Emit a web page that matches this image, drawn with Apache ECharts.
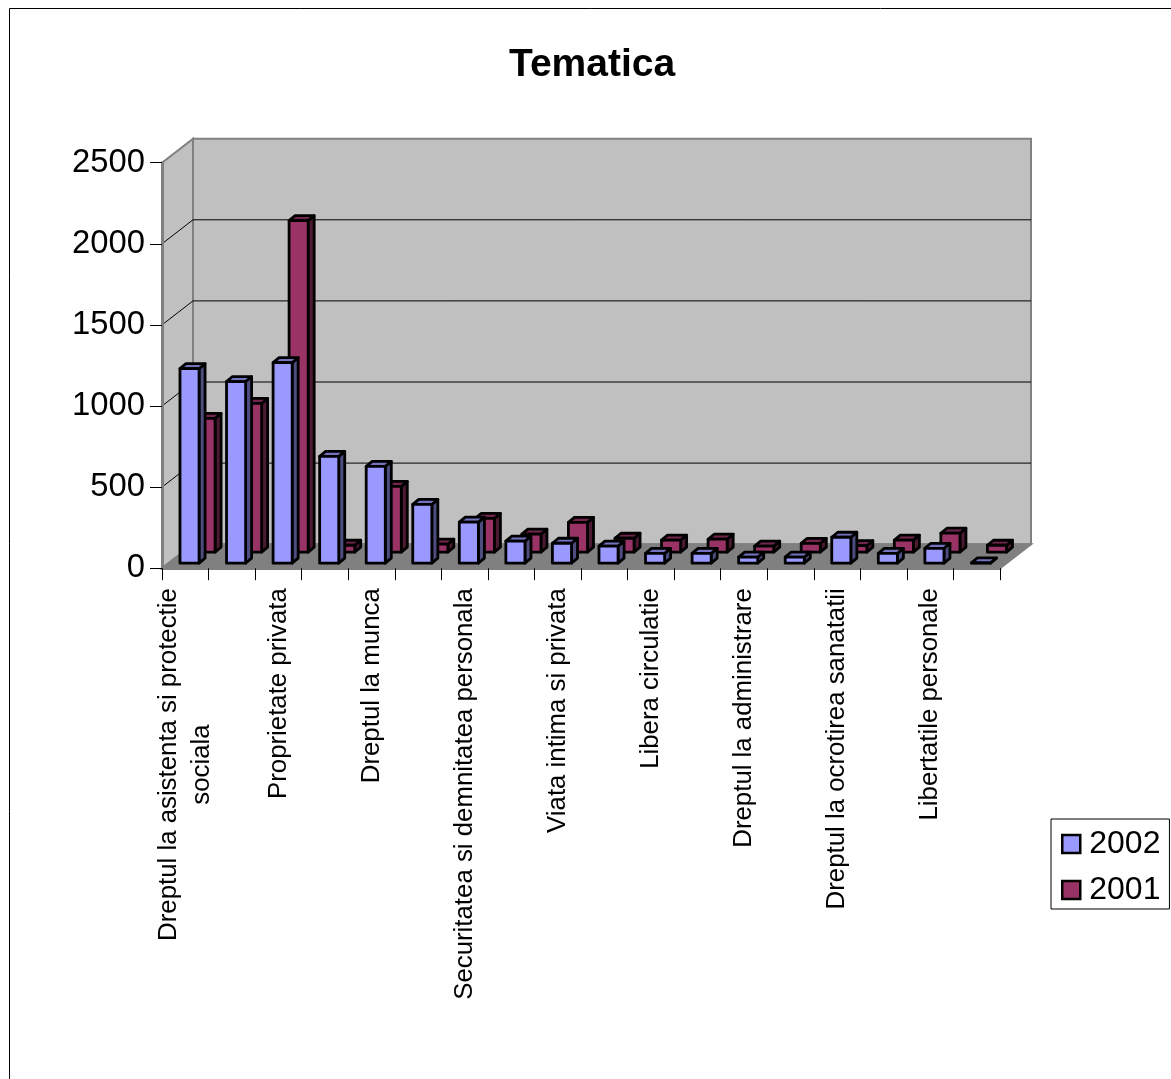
<!DOCTYPE html>
<html><head><meta charset="utf-8">
<style>html,body{margin:0;padding:0;background:#fff}#c{width:1171px;height:1079px}</style>
<script src="https://cdn.jsdelivr.net/npm/echarts@6/dist/echarts.min.js"></script>
</head><body><div id="c"></div>
<script>
const categories = ['Dreptul la asistenta si protectie\nsociala','','Proprietate privata','','Dreptul la munca','','Securitatea si demnitatea personala','','Viata intima si privata','','Libera circulatie','','Dreptul la administrare','','Dreptul la ocrotirea sanatatii','','Libertatile personale',''];
const values2002 = [1200,1120,1237,659,597,363,253,136,123,105,61,61,37,37,160,61,92,2];
const values2001 = [825,917,2044,43,406,50,209,111,184,86,74,80,37,55,40,74,117,43];
const ticks = [0,500,1000,1500,2000,2500];
const DX = 31, DY = -24;        // wall depth
const BAR_DX = 6, BAR_DY = -5;  // bar depth
const FONT = '"Liberation Sans", Arial, sans-serif';

function shade(points, fill){
  return {type:'polygon', shape:{points}, style:{fill, stroke:'#000', lineWidth:2.8, lineJoin:'round'}};
}
function barRender(xShift, yShift, front, side, top){
  return function(params, api){
    const i = api.value(0), v = api.value(1);
    const band = api.size([1,0])[0];
    const base = api.coord([i,0]);
    const tip = api.coord([i,v]);
    const w = band*0.41;
    const x0 = base[0]+xShift, x1 = x0+w;
    const y0 = base[1]+yShift, y1 = tip[1]+yShift;
    return {type:'group', children:[
      shade([[x1,y0],[x1+BAR_DX,y0+BAR_DY],[x1+BAR_DX,y1+BAR_DY],[x1,y1]], side),
      shade([[x0,y1],[x1,y1],[x1+BAR_DX,y1+BAR_DY],[x0+BAR_DX,y1+BAR_DY]], top),
      shade([[x0,y0],[x1,y0],[x1,y1],[x0,y1]], front)
    ]};
  };
}
function wallRender(params, api){
  const band = api.size([1,0])[0];
  const a = api.coord([0,0]), t = api.coord([0,2500]), e = api.coord([categories.length-1,0]);
  const L = a[0]-band/2, R = e[0]+band/2, B = a[1], T = t[1];
  const wall = {stroke:'#808080', lineWidth:2, lineJoin:'miter'};
  return {type:'group', children:[
    {type:'polygon', shape:{points:[[L+DX,T+DY],[R+DX,T+DY],[R+DX,B+DY],[L+DX,B+DY]]}, style:{fill:'#c0c0c0',...wall}},
    {type:'polygon', shape:{points:[[L,T],[L+DX,T+DY],[L+DX,B+DY],[L,B]]}, style:{fill:'#c0c0c0',...wall}},
    {type:'polygon', shape:{points:[[L,B],[L+DX,B+DY],[R+DX,B+DY],[R,B]]}, style:{fill:'#808080',stroke:'#808080',lineWidth:2}}
  ]};
}
function gridRender(params, api){
  const v = api.value(0);
  const band = api.size([1,0])[0];
  const p = api.coord([0,v]), e = api.coord([categories.length-1,v]);
  const L = p[0]-band/2, R = e[0]+band/2, Y = p[1];
  const ln = {stroke:'#000', lineWidth:1};
  return {type:'group', children:[
    {type:'line', shape:{x1:L,y1:Y,x2:L+DX,y2:Y+DY}, style:ln},
    {type:'line', shape:{x1:L+DX,y1:Y+DY,x2:R+DX,y2:Y+DY}, style:ln}
  ]};
}
const chart = echarts.init(document.getElementById('c'), null, {renderer:'canvas'});
chart.setOption({
  animation:false,
  backgroundColor:'#fff',
  title:{text:'Tematica', left:504, top:41, padding:[5,5,5,5],
    textStyle:{fontFamily:FONT,fontSize:39,fontWeight:'bold',color:'#000'}},
  legend:{
    orient:'vertical', left:1051, top:819, padding:[9,9,3,10], itemGap:14, itemWidth:18, itemHeight:18,
    borderColor:'#000', borderWidth:1, backgroundColor:'#fff', icon:'rect',
    textStyle:{fontFamily:FONT,fontSize:32,color:'#000',padding:[0,0,0,4]},
    data:[
      {name:'2002', itemStyle:{color:'#9999ff',borderColor:'#000',borderWidth:2.5}},
      {name:'2001', itemStyle:{color:'#993366',borderColor:'#000',borderWidth:2.5}}
    ]
  },
  grid:{left:162, top:162.7, width:838, height:405.5},
  xAxis:{type:'category', data:categories, boundaryGap:true,
    axisLine:{lineStyle:{color:'#808080',width:3}},
    axisTick:{show:true, interval:0, length:12, lineStyle:{color:'#000',width:1}},
    axisLabel:{interval:1, rotate:90, margin:20, color:'#000',
      formatter:v=>v?v.split('\n').map(s=>'{a|'+s+'}').join('\n'):'',
      rich:{a:{align:'center',fontFamily:FONT,fontSize:25.8,lineHeight:33,color:'#000'}}},
    splitLine:{show:false}, z:5},
  yAxis:{type:'value', min:0, max:2500, interval:500,
    axisLine:{show:true,lineStyle:{color:'#808080',width:3}},
    axisTick:{show:true,length:12,lineStyle:{color:'#000',width:1}},
    axisLabel:{margin:17,fontFamily:FONT,fontSize:32.8,color:'#000',formatter:v=>String(v)},
    splitLine:{show:false}, z:5},
  series:[
    {type:'custom', name:'walls', silent:true, clip:false, z:1, data:[[0]], encode:{x:-1,y:-1}, renderItem:wallRender},
    {type:'custom', name:'grid', silent:true, clip:false, z:2, data:ticks.slice(1,5).map(v=>[v]), encode:{x:-1,y:-1}, renderItem:gridRender},
    {type:'custom', name:'2001', clip:false, z:3, itemStyle:{color:'#993366'},
      data:values2001.map((v,i)=>[i,v]), encode:{x:0,y:1},
      renderItem:barRender(10.7,-16,'#993366','#4d1a33','#73264d')},
    {type:'custom', name:'2002', clip:false, z:4, itemStyle:{color:'#9999ff'},
      data:values2002.map((v,i)=>[i,v]), encode:{x:0,y:1},
      renderItem:barRender(-5.3,-5,'#9999ff','#4d4d80','#7373bf')}
  ],
  graphic:[{type:'polyline', silent:true, z:0, shape:{points:[[9.5,1079],[9.5,8.5],[1171,8.5]]}, style:{fill:null,stroke:'#000',lineWidth:1}}]
});
</script></body></html>
